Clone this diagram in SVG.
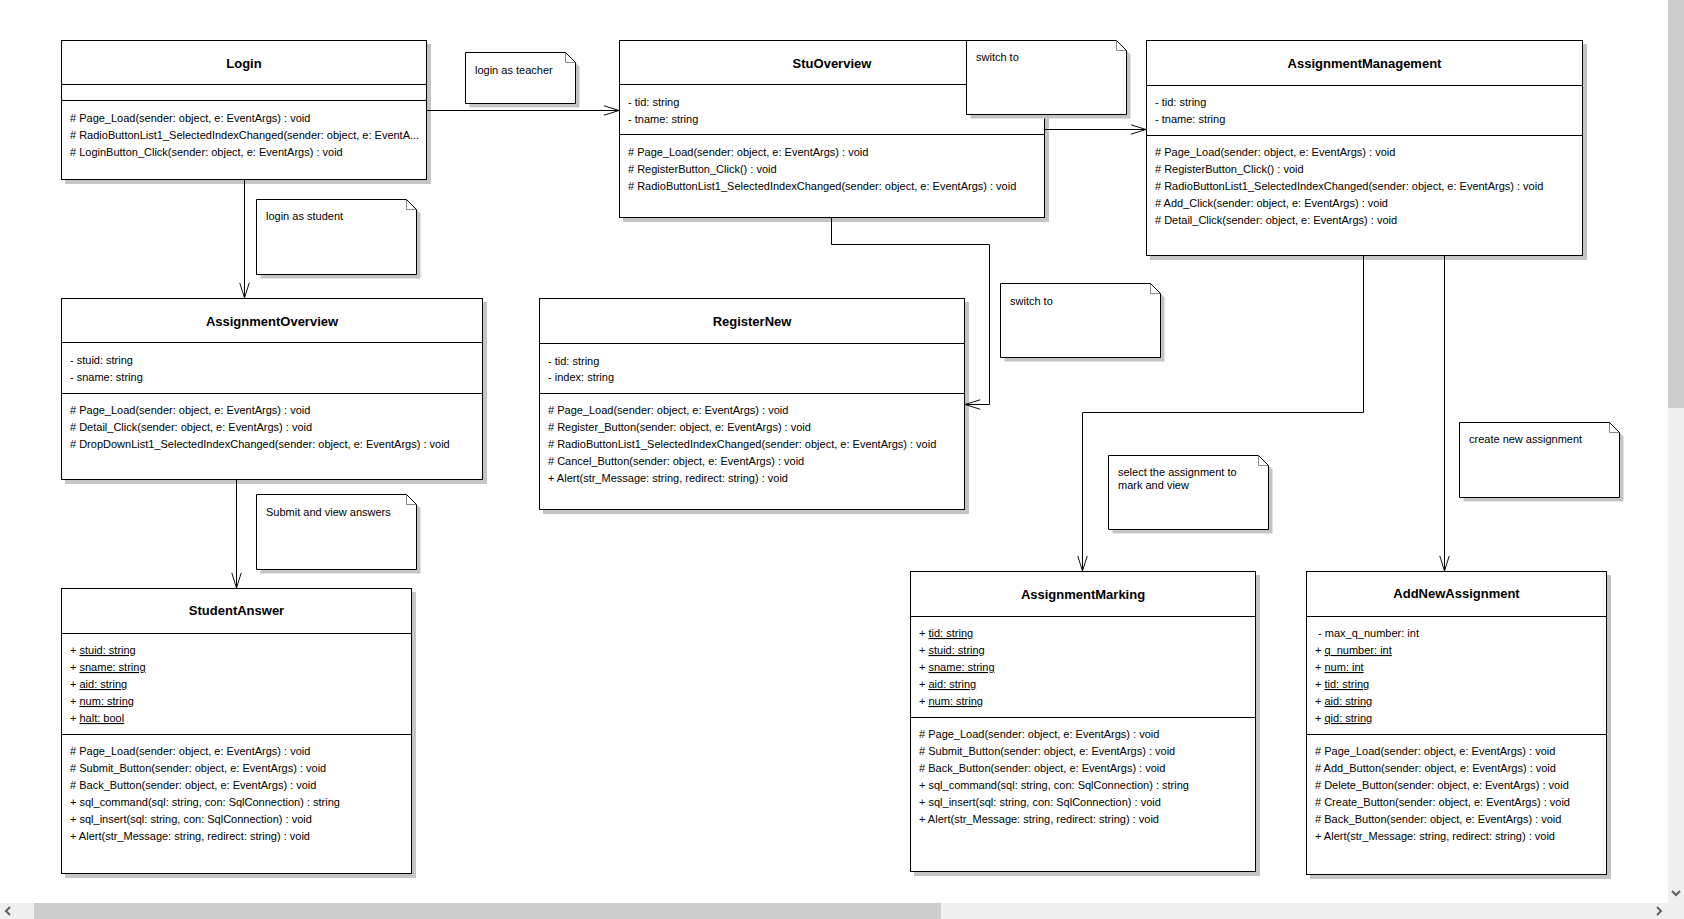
<svg xmlns="http://www.w3.org/2000/svg" width="1684" height="919" viewBox="0 0 1684 919">
<style>
.bx{fill:#fff;stroke:#000;stroke-width:1}
.sh{fill:#c4c4c4}
.dv{stroke:#000;stroke-width:1}
.t{font-family:"Liberation Sans",Arial,sans-serif;font-size:11px;fill:#000}
.ti{font-family:"Liberation Sans",Arial,sans-serif;font-size:13px;font-weight:bold;fill:#000;text-anchor:middle}
.u{text-decoration:underline}
.c{fill:none;stroke:#000;stroke-width:1}
.fold{fill:none;stroke:#888;stroke-width:1}
.chev{fill:none;stroke:#606060;stroke-width:2}
</style>
<defs>
<marker id="open" markerUnits="userSpaceOnUse" markerWidth="17" markerHeight="12" viewBox="-1 -1 18 12" refX="16" refY="5" orient="auto">
<path d="M0,0 L16,5 L0,10" fill="none" stroke="#000" stroke-width="1"/>
</marker>
</defs>
<rect width="1684" height="919" fill="#fff"/>

<g id="Login">
<rect class="sh" x="65" y="44" width="366" height="140"/>
<rect class="bx" x="61.5" y="40.5" width="365" height="139"/>
<line class="dv" x1="61.5" y1="84.5" x2="426.5" y2="84.5"/>
<line class="dv" x1="61.5" y1="100.5" x2="426.5" y2="100.5"/>
<text class="ti" x="244" y="68">Login</text>
<text class="t" x="70" y="122"># Page_Load(sender: object, e: EventArgs) : void</text>
<text class="t" x="70" y="139"># RadioButtonList1_SelectedIndexChanged(sender: object, e: EventA...</text>
<text class="t" x="70" y="156"># LoginButton_Click(sender: object, e: EventArgs) : void</text>
</g>

<g id="StuOverview">
<rect class="sh" x="623" y="44" width="426" height="178"/>
<rect class="bx" x="619.5" y="40.5" width="425" height="177"/>
<line class="dv" x1="619.5" y1="84.5" x2="1044.5" y2="84.5"/>
<line class="dv" x1="619.5" y1="134.5" x2="1044.5" y2="134.5"/>
<text class="ti" x="832" y="68">StuOverview</text>
<text class="t" x="628" y="106">- tid: string</text>
<text class="t" x="628" y="123">- tname: string</text>
<text class="t" x="628" y="156"># Page_Load(sender: object, e: EventArgs) : void</text>
<text class="t" x="628" y="173"># RegisterButton_Click() : void</text>
<text class="t" x="628" y="190"># RadioButtonList1_SelectedIndexChanged(sender: object, e: EventArgs) : void</text>
</g>

<g id="AssignmentManagement">
<rect class="sh" x="1150" y="44" width="437" height="216"/>
<rect class="bx" x="1146.5" y="40.5" width="436" height="215"/>
<line class="dv" x1="1146.5" y1="85.5" x2="1582.5" y2="85.5"/>
<line class="dv" x1="1146.5" y1="135.5" x2="1582.5" y2="135.5"/>
<text class="ti" x="1364.5" y="68">AssignmentManagement</text>
<text class="t" x="1155" y="106">- tid: string</text>
<text class="t" x="1155" y="123">- tname: string</text>
<text class="t" x="1155" y="156"># Page_Load(sender: object, e: EventArgs) : void</text>
<text class="t" x="1155" y="173"># RegisterButton_Click() : void</text>
<text class="t" x="1155" y="190"># RadioButtonList1_SelectedIndexChanged(sender: object, e: EventArgs) : void</text>
<text class="t" x="1155" y="207"># Add_Click(sender: object, e: EventArgs) : void</text>
<text class="t" x="1155" y="224"># Detail_Click(sender: object, e: EventArgs) : void</text>
</g>

<g id="AssignmentOverview">
<rect class="sh" x="65" y="302" width="422" height="182"/>
<rect class="bx" x="61.5" y="298.5" width="421" height="181"/>
<line class="dv" x1="61.5" y1="342.5" x2="482.5" y2="342.5"/>
<line class="dv" x1="61.5" y1="393.5" x2="482.5" y2="393.5"/>
<text class="ti" x="272" y="326">AssignmentOverview</text>
<text class="t" x="70" y="364">- stuid: string</text>
<text class="t" x="70" y="381">- sname: string</text>
<text class="t" x="70" y="414"># Page_Load(sender: object, e: EventArgs) : void</text>
<text class="t" x="70" y="431"># Detail_Click(sender: object, e: EventArgs) : void</text>
<text class="t" x="70" y="448"># DropDownList1_SelectedIndexChanged(sender: object, e: EventArgs) : void</text>
</g>

<g id="RegisterNew">
<rect class="sh" x="543" y="302" width="426" height="212"/>
<rect class="bx" x="539.5" y="298.5" width="425" height="211"/>
<line class="dv" x1="539.5" y1="343.5" x2="964.5" y2="343.5"/>
<line class="dv" x1="539.5" y1="393.5" x2="964.5" y2="393.5"/>
<text class="ti" x="752" y="326">RegisterNew</text>
<text class="t" x="548" y="365">- tid: string</text>
<text class="t" x="548" y="381">- index: string</text>
<text class="t" x="548" y="414"># Page_Load(sender: object, e: EventArgs) : void</text>
<text class="t" x="548" y="431"># Register_Button(sender: object, e: EventArgs) : void</text>
<text class="t" x="548" y="448"># RadioButtonList1_SelectedIndexChanged(sender: object, e: EventArgs) : void</text>
<text class="t" x="548" y="465"># Cancel_Button(sender: object, e: EventArgs) : void</text>
<text class="t" x="548" y="482">+ Alert(str_Message: string, redirect: string) : void</text>
</g>

<g id="StudentAnswer">
<rect class="sh" x="65" y="592" width="351" height="286"/>
<rect class="bx" x="61.5" y="588.5" width="350" height="285"/>
<line class="dv" x1="61.5" y1="633.5" x2="411.5" y2="633.5"/>
<line class="dv" x1="61.5" y1="734.5" x2="411.5" y2="734.5"/>
<text class="ti" x="236.5" y="615">StudentAnswer</text>
<text class="t" x="70" y="654">+ <tspan class="u">stuid: string</tspan></text>
<text class="t" x="70" y="671">+ <tspan class="u">sname: string</tspan></text>
<text class="t" x="70" y="688">+ <tspan class="u">aid: string</tspan></text>
<text class="t" x="70" y="705">+ <tspan class="u">num: string</tspan></text>
<text class="t" x="70" y="722">+ <tspan class="u">halt: bool</tspan></text>
<text class="t" x="70" y="755"># Page_Load(sender: object, e: EventArgs) : void</text>
<text class="t" x="70" y="772"># Submit_Button(sender: object, e: EventArgs) : void</text>
<text class="t" x="70" y="789"># Back_Button(sender: object, e: EventArgs) : void</text>
<text class="t" x="70" y="806">+ sql_command(sql: string, con: SqlConnection) : string</text>
<text class="t" x="70" y="823">+ sql_insert(sql: string, con: SqlConnection) : void</text>
<text class="t" x="70" y="840">+ Alert(str_Message: string, redirect: string) : void</text>
</g>

<g id="AssignmentMarking">
<rect class="sh" x="914" y="575" width="346" height="301"/>
<rect class="bx" x="910.5" y="571.5" width="345" height="300"/>
<line class="dv" x1="910.5" y1="616.5" x2="1255.5" y2="616.5"/>
<line class="dv" x1="910.5" y1="717.5" x2="1255.5" y2="717.5"/>
<text class="ti" x="1083" y="599">AssignmentMarking</text>
<text class="t" x="919" y="637">+ <tspan class="u">tid: string</tspan></text>
<text class="t" x="919" y="654">+ <tspan class="u">stuid: string</tspan></text>
<text class="t" x="919" y="671">+ <tspan class="u">sname: string</tspan></text>
<text class="t" x="919" y="688">+ <tspan class="u">aid: string</tspan></text>
<text class="t" x="919" y="705">+ <tspan class="u">num: string</tspan></text>
<text class="t" x="919" y="738"># Page_Load(sender: object, e: EventArgs) : void</text>
<text class="t" x="919" y="755"># Submit_Button(sender: object, e: EventArgs) : void</text>
<text class="t" x="919" y="772"># Back_Button(sender: object, e: EventArgs) : void</text>
<text class="t" x="919" y="789">+ sql_command(sql: string, con: SqlConnection) : string</text>
<text class="t" x="919" y="806">+ sql_insert(sql: string, con: SqlConnection) : void</text>
<text class="t" x="919" y="823">+ Alert(str_Message: string, redirect: string) : void</text>
</g>

<g id="AddNewAssignment">
<rect class="sh" x="1310" y="575" width="301" height="304"/>
<rect class="bx" x="1306.5" y="571.5" width="300" height="303"/>
<line class="dv" x1="1306.5" y1="616.5" x2="1606.5" y2="616.5"/>
<line class="dv" x1="1306.5" y1="734.5" x2="1606.5" y2="734.5"/>
<text class="ti" x="1456.5" y="598">AddNewAssignment</text>
<text class="t" x="1315" y="637">&#160;- max_q_number: int</text>
<text class="t" x="1315" y="654">+ <tspan class="u">q_number: int</tspan></text>
<text class="t" x="1315" y="671">+ <tspan class="u">num: int</tspan></text>
<text class="t" x="1315" y="688">+ <tspan class="u">tid: string</tspan></text>
<text class="t" x="1315" y="705">+ <tspan class="u">aid: string</tspan></text>
<text class="t" x="1315" y="722">+ <tspan class="u">qid: string</tspan></text>
<text class="t" x="1315" y="755"># Page_Load(sender: object, e: EventArgs) : void</text>
<text class="t" x="1315" y="772"># Add_Button(sender: object, e: EventArgs) : void</text>
<text class="t" x="1315" y="789"># Delete_Button(sender: object, e: EventArgs) : void</text>
<text class="t" x="1315" y="806"># Create_Button(sender: object, e: EventArgs) : void</text>
<text class="t" x="1315" y="823"># Back_Button(sender: object, e: EventArgs) : void</text>
<text class="t" x="1315" y="840">+ Alert(str_Message: string, redirect: string) : void</text>
</g>

<g id="connectors">
<path class="c" d="M427,110.5 H619" marker-end="url(#open)"/>
<path class="c" d="M1045,129.5 H1146" marker-end="url(#open)"/>
<path class="c" d="M244.5,180 V298" marker-end="url(#open)"/>
<path class="c" d="M236.5,480 V588" marker-end="url(#open)"/>
<path class="c" d="M831.5,218 V244.5 H989.5 V404.5 H965" marker-end="url(#open)"/>
<path class="c" d="M1363.5,256 V412.5 H1082.5 V571" marker-end="url(#open)"/>
<path class="c" d="M1444.5,256 V571" marker-end="url(#open)"/>
</g>

<g id="note-login-teacher">
<path class="sh" d="M469.5,56.5 H569.5 L579.5,66.5 V107.5 H469.5 Z"/>
<path class="bx" d="M465.5,52.5 H565.5 L575.5,62.5 V103.5 H465.5 Z"/>
<path class="fold" d="M565.5,53 V62.5 H575"/>
<text class="t" x="475" y="74">login as teacher</text>
</g>

<g id="note-login-student">
<path class="sh" d="M260.5,203.5 H410.5 L420.5,213.5 V278.5 H260.5 Z"/>
<path class="bx" d="M256.5,199.5 H406.5 L416.5,209.5 V274.5 H256.5 Z"/>
<path class="fold" d="M406.5,200 V209.5 H416"/>
<text class="t" x="266" y="220">login as student</text>
</g>

<g id="note-submit">
<path class="sh" d="M260.5,498.5 H410.5 L420.5,508.5 V573.5 H260.5 Z"/>
<path class="bx" d="M256.5,494.5 H406.5 L416.5,504.5 V569.5 H256.5 Z"/>
<path class="fold" d="M406.5,495 V504.5 H416"/>
<text class="t" x="266" y="516">Submit and view answers</text>
</g>

<g id="note-switch-1">
<path class="sh" d="M970.5,44.5 H1120.5 L1130.5,54.5 V118.5 H970.5 Z"/>
<path class="bx" d="M966.5,40.5 H1116.5 L1126.5,50.5 V114.5 H966.5 Z"/>
<path class="fold" d="M1116.5,41 V50.5 H1126"/>
<text class="t" x="976" y="61">switch to</text>
</g>

<g id="note-switch-2">
<path class="sh" d="M1004.5,287.5 H1154.5 L1164.5,297.5 V361.5 H1004.5 Z"/>
<path class="bx" d="M1000.5,283.5 H1150.5 L1160.5,293.5 V357.5 H1000.5 Z"/>
<path class="fold" d="M1150.5,284 V293.5 H1160"/>
<text class="t" x="1010" y="305">switch to</text>
</g>

<g id="note-select">
<path class="sh" d="M1112.5,459.5 H1262.5 L1272.5,469.5 V533.5 H1112.5 Z"/>
<path class="bx" d="M1108.5,455.5 H1258.5 L1268.5,465.5 V529.5 H1108.5 Z"/>
<path class="fold" d="M1258.5,456 V465.5 H1268"/>
<text class="t" x="1118" y="476">select the assignment to</text>
<text class="t" x="1118" y="489">mark and view</text>
</g>

<g id="note-create">
<path class="sh" d="M1463.5,426.5 H1613.5 L1623.5,436.5 V501.5 H1463.5 Z"/>
<path class="bx" d="M1459.5,422.5 H1609.5 L1619.5,432.5 V497.5 H1459.5 Z"/>
<path class="fold" d="M1609.5,423 V432.5 H1619"/>
<text class="t" x="1469" y="443">create new assignment</text>
</g>

<g id="scrollbars">
<rect x="1668" y="0" width="16" height="903" fill="#f0f0f0"/>
<rect x="1668" y="0" width="16" height="408" fill="#cdcdcd"/>
<rect x="0" y="903" width="1684" height="16" fill="#f0f0f0"/>
<rect x="34" y="903" width="907" height="16" fill="#cdcdcd"/>
<polyline class="chev" points="10,907 6,911 10,915"/>
<polyline class="chev" points="1657,907 1661,911 1657,915"/>
<polyline class="chev" points="1672,891 1676,895 1680,891"/>
</g>
</svg>
